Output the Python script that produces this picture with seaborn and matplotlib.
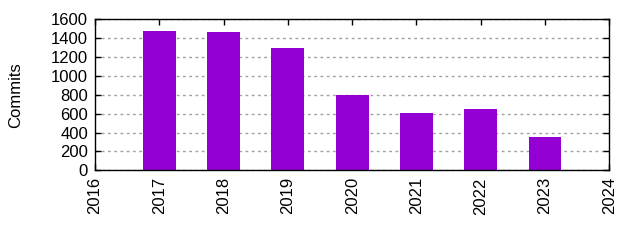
import matplotlib
matplotlib.use("Agg")
import matplotlib.pyplot as plt
import seaborn as sns
import pandas as pd

years = [2017, 2018, 2019, 2020, 2021, 2022, 2023]
commits = [1476, 1465, 1296, 798, 607, 650, 353]
xticks = list(range(2016, 2025))
yticks = list(range(0, 1601, 200))

sns.set_theme(style="white")
plt.rcParams['font.family'] = ['Liberation Sans', 'DejaVu Sans']

fig = plt.figure(figsize=(6.4, 2.4), dpi=100)
ax = fig.add_axes([95/640, 1 - 170.3/240, (609.3-95)/640, (170.3-19.3)/240])

df = pd.DataFrame({"year": years, "commits": commits})
sns.barplot(data=df, x="year", y="commits", native_scale=True, width=0.51,
            color="#9400D3", saturation=1, edgecolor="none", ax=ax, zorder=2)

fs = 12
ax.set_xlim(2016, 2024)
ax.set_ylim(0, 1600)
ax.set_xticks(xticks)
ax.set_xticklabels([str(t) for t in xticks], rotation=90, fontsize=fs, color="black")
ax.set_yticks(yticks)
ax.set_yticklabels([str(t) for t in yticks], fontsize=fs, color="black")
ax.set_xlabel("")
ax.set_ylabel("Commits", fontsize=fs, color="black")
ax.yaxis.set_label_coords(-(95-23)/514.3, 0.5)

ax.yaxis.grid(True, color="#a0a0a0", linestyle=(0, (2, 2.5)), linewidth=1, zorder=0)
ax.xaxis.grid(False)
ax.set_axisbelow(True)
for s in ax.spines.values():
    s.set_visible(True)
    s.set_color("black")
    s.set_linewidth(1)
    s.set_zorder(3)

ax.tick_params(axis="both", which="both", direction="in", length=4, width=1,
               color="black", top=True, right=True, bottom=True, left=True, pad=5)

fig.savefig("out.png", dpi=100)
